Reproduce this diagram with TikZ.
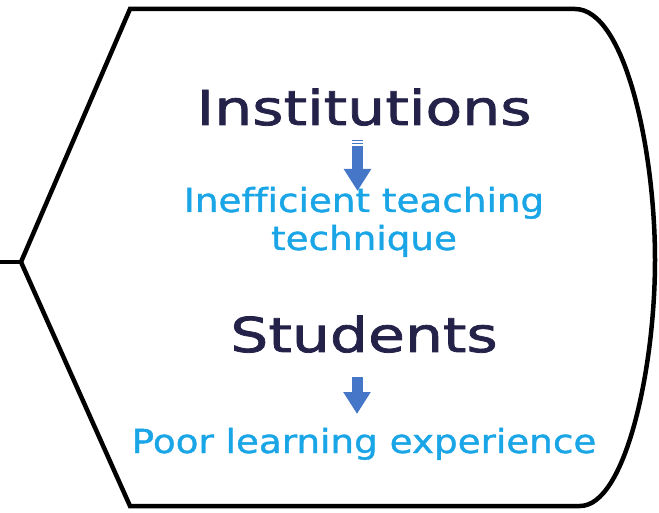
\documentclass[tikz,border=0pt]{standalone}
\usepackage{fontspec}
\usetikzlibrary{arrows.meta}
\newfontfamily\headfont[FakeStretch=1.25,FakeBold=1.6,Ligatures=NoCommon]{DejaVu Sans}
\newfontfamily\subfont[FakeStretch=1.13,FakeBold=1.2,Ligatures=NoCommon]{DejaVu Sans}
\definecolor{navy}{HTML}{25224A}
\definecolor{sky}{HTML}{1AA5E6}
\definecolor{arrowblue}{HTML}{4676C8}
\tikzset{
  outline/.style={draw=black, line width=4.5pt, line join=miter},
  head/.style={font=\headfont\fontsize{48}{50}\selectfont, text=navy, inner sep=0pt, anchor=base},
  sub/.style={font=\subfont\fontsize{33}{38}\selectfont, text=sky, inner sep=0pt, anchor=base},
  blockarrow/.style={draw=arrowblue, line width=11pt, -{Triangle[width=26pt,length=22pt]}, shorten >=-1pt},
}
\begin{document}
\begin{tikzpicture}[x=1pt,y=-1pt]
\useasboundingbox (0,0) rectangle (659,513);
% outline
\coordinate (L) at (21,262);
\coordinate (E) at (0,262);
\coordinate (TL) at (130,9);
\coordinate (TR) at (575,9);
\coordinate (R) at (655,260);
\coordinate (BR) at (580,506);
\coordinate (BL) at (130,506);
\draw[outline] (L) -- (TL) -- (TR)
  .. controls (625,9) and (655,150) .. (R)
  .. controls (655,370) and (625,506) .. (BR) -- (BL) -- cycle;
\draw[outline] (E) -- (L);
% texts
\node[head] (inst) at (364,125) {Institutions};
\node[sub] (ineff) at (364,212) {Inefficient teaching};
\node[sub] (tech) at (364,250) {technique};
\node[head] (stud) at (364,352) {Students};
\node[sub] (poor) at (364,453) {Poor learning experience};
% arrows
\coordinate (a1s) at (357.5,146);
\coordinate (a1e) at (357.5,190);
\coordinate (a2s) at (357,377);
\coordinate (a2e) at (357,413);
\draw[blockarrow] (a1s) -- (a1e);
\fill[arrowblue] (352,140) rectangle (363,141.5);
\fill[arrowblue] (352,143) rectangle (363,144.5);
\draw[blockarrow] (a2s) -- (a2e);
\end{tikzpicture}
\end{document}
